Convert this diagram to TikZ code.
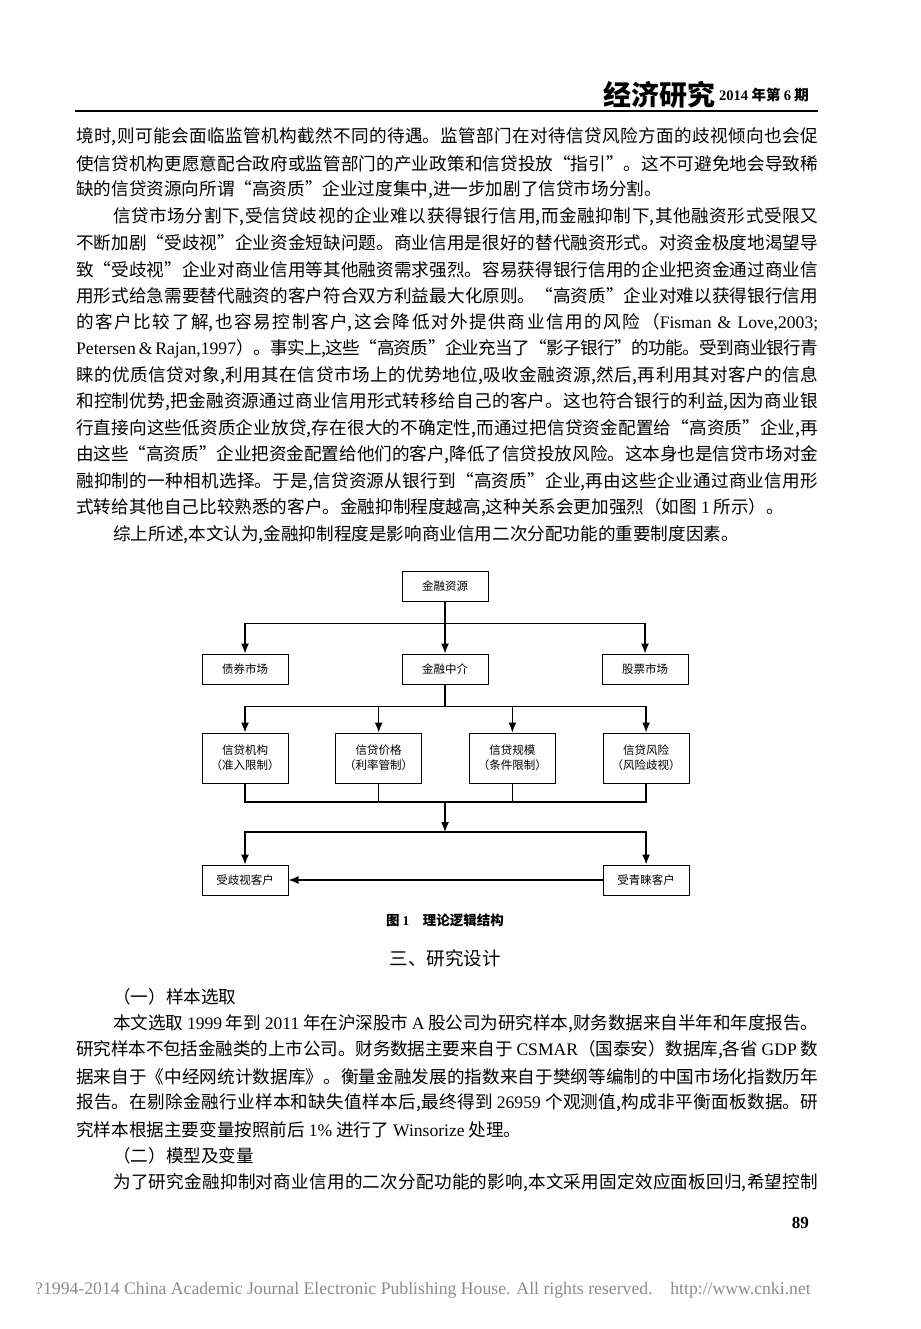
\documentclass[tikz,border=0pt]{standalone}
\usepackage{fontspec}
\setmainfont{Noto Sans CJK SC}
\newfontfamily\latinfont{Liberation Serif}
\usetikzlibrary{arrows.meta,positioning,calc}
\XeTeXlinebreaklocale "zh"
\XeTeXlinebreakskip=0pt plus 2pt minus 0.8pt
\newcommand\lat[1]{{\latinfont #1}}
\newcommand\fl[1]{\parfillskip=0pt #1\par}

\begin{document}
\begin{tikzpicture}[
    x=1pt, y=-1pt,
    body/.style={anchor=west, inner sep=0pt, font=\fontsize{17.6}{20}\selectfont},
    full/.style={body, text width=742pt, align=justify},
    fullin/.style={body, text width=705pt, align=justify},
    box/.style={rectangle, draw, line width=1pt, minimum width=86pt, minimum height=30pt, inner sep=2pt, align=center, font=\fontsize{11.5}{15}\selectfont},
    tall/.style={box, minimum height=50pt},
    link/.style={line width=1.3pt},
    arr/.style={link, -{Latex[length=10pt,width=8pt]}},
]
\fill[white] (0,0) rectangle (920,1329);
\useasboundingbox (0,0) rectangle (920,1329);

% header
\node[anchor=east, inner sep=0pt, font=\fontsize{28}{30}\selectfont\bfseries] (logo) at (716,95) {经济研究};
\node[anchor=west, inner sep=0pt, font=\fontsize{14.5}{16}\selectfont\bfseries] (issue) at ($(logo.east)+(3,0)$) {\lat{\textbf{2014}} 年第 \lat{\textbf{6}} 期};
\draw[line width=1.2pt] (75,111) -- (818,111);

% text above the figure
\node[full] (line1) at (76,137) {\fl{境时,则可能会面临监管机构截然不同的待遇。监管部门在对待信贷风险方面的歧视倾向也会促}};
\node[full] (line2) at (76,163.5) {\fl{使信贷机构更愿意配合政府或监管部门的产业政策和信贷投放“指引”。这不可避免地会导致稀}};
\node[body] (line3) at (76,190) {缺的信贷资源向所谓“高资质”企业过度集中,进一步加剧了信贷市场分割。};
\node[fullin] (line4) at (113,216.5) {\fl{信贷市场分割下,受信贷歧视的企业难以获得银行信用,而金融抑制下,其他融资形式受限又}};
\node[full] (line5) at (76,243) {\fl{不断加剧“受歧视”企业资金短缺问题。商业信用是很好的替代融资形式。对资金极度地渴望导}};
\node[full] (line6) at (76,269.5) {\fl{致“受歧视”企业对商业信用等其他融资需求强烈。容易获得银行信用的企业把资金通过商业信}};
\node[full] (line7) at (76,296) {\fl{用形式给急需要替代融资的客户符合双方利益最大化原则。“高资质”企业对难以获得银行信用}};
\node[full] (line8) at (76,322.5) {\fl{的客户比较了解,也容易控制客户,这会降低对外提供商业信用的风险（\lat{Fisman \& Love,2003;}}};
\node[full] (line9) at (76,349) {\fl{\lat{Petersen \& Rajan,1997}）。事实上,这些“高资质”企业充当了“影子银行”的功能。受到商业银行青}};
\node[full] (line10) at (76,375.5) {\fl{睐的优质信贷对象,利用其在信贷市场上的优势地位,吸收金融资源,然后,再利用其对客户的信息}};
\node[full] (line11) at (76,402) {\fl{和控制优势,把金融资源通过商业信用形式转移给自己的客户。这也符合银行的利益,因为商业银}};
\node[full] (line12) at (76,428.5) {\fl{行直接向这些低资质企业放贷,存在很大的不确定性,而通过把信贷资金配置给“高资质”企业,再}};
\node[full] (line13) at (76,455) {\fl{由这些“高资质”企业把资金配置给他们的客户,降低了信贷投放风险。这本身也是信贷市场对金}};
\node[full] (line14) at (76,481.5) {\fl{融抑制的一种相机选择。于是,信贷资源从银行到“高资质”企业,再由这些企业通过商业信用形}};
\node[body] (line15) at (76,508) {式转给其他自己比较熟悉的客户。金融抑制程度越高,这种关系会更加强烈（如图 \lat{1} 所示）。};
\node[body] (line16) at (113,534.5) {综上所述,本文认为,金融抑制程度是影响商业信用二次分配功能的重要制度因素。};

% figure 1
\node[box] (source) at (445,586) {金融资源};
\node[box, below=52pt of source] (mid) {金融中介};
\node[box, left=113pt of mid] (bond) {债券市场};
\node[box, right=113pt of mid] (stock) {股票市场};

\node[tall, below=48pt of bond] (inst) {信贷机构\\（准入限制）};
\node[tall, right=46.7pt of inst] (price) {信贷价格\\（利率管制）};
\node[tall, right=46.7pt of price] (size) {信贷规模\\（条件限制）};
\node[tall, right=46.7pt of size] (risk) {信贷风险\\（风险歧视）};

\node[box, below=81pt of inst] (hurt) {受歧视客户};
\node[box, below=81pt of risk] (fav) {受青睐客户};

\coordinate (split1) at ($(source.south)+(0,22)$);
\coordinate (split2) at ($(mid.south)+(0,22)$);
\coordinate (merge) at (445,802);
\coordinate (split3) at (445,832);

\draw[link] (source) -- (split1);
\draw[arr] (split1) -- (mid);
\draw[arr] (split1) -| (bond);
\draw[arr] (split1) -| (stock);

\draw[link] (mid) -- (split2);
\foreach \t in {inst,price,size,risk}
    \draw[arr] (split2) -| (\t);
\foreach \t in {inst,price,size,risk}
    \draw[link] (\t) |- (merge);

\draw[arr] (merge) -- (split3);
\draw[arr] (split3) -| (hurt);
\draw[arr] (split3) -| (fav);
\draw[arr] (fav) -- (hurt);

\node[font=\fontsize{13.5}{15}\selectfont\bfseries] (caption) at (445,920) {图 \lat{\textbf{1}}\quad 理论逻辑结构};

% section three
\node[font=\fontsize{18.5}{22}\selectfont] (section) at (445,958) {三、研究设计};
\node[body] (sub1) at (113,997) {（一）样本选取};
\node[fullin] (line17) at (113,1023.5) {\fl{本文选取 \lat{1999} 年到 \lat{2011} 年在沪深股市 \lat{A} 股公司为研究样本,财务数据来自半年和年度报告。}};
\node[full] (line18) at (76,1050) {\fl{研究样本不包括金融类的上市公司。财务数据主要来自于 \lat{CSMAR}（国泰安）数据库,各省 \lat{GDP} 数}};
\node[full] (line19) at (76,1076.5) {\fl{据来自于《中经网统计数据库》。衡量金融发展的指数来自于樊纲等编制的中国市场化指数历年}};
\node[full] (line20) at (76,1103) {\fl{报告。在剔除金融行业样本和缺失值样本后,最终得到 \lat{26959} 个观测值,构成非平衡面板数据。研}};
\node[body] (line21) at (76,1129.5) {究样本根据主要变量按照前后 \lat{1\%} 进行了 \lat{Winsorize} 处理。};
\node[body] (sub2) at (113,1156) {（二）模型及变量};
\node[fullin] (line22) at (113,1182.5) {\fl{为了研究金融抑制对商业信用的二次分配功能的影响,本文采用固定效应面板回归,希望控制}};

% page number and footer
\node[anchor=east, inner sep=0pt, font=\fontsize{17}{20}\selectfont] (page) at (809,1223) {\lat{\textbf{89}}};
\node[anchor=west, inner sep=0pt, text=black!45, font=\fontsize{17.7}{20}\selectfont\latinfont] (footer) at (35,1290) {?1994-2014 China Academic Journal Electronic Publishing House. All rights reserved.\quad http://www.cnki.net};

\end{tikzpicture}
\end{document}
